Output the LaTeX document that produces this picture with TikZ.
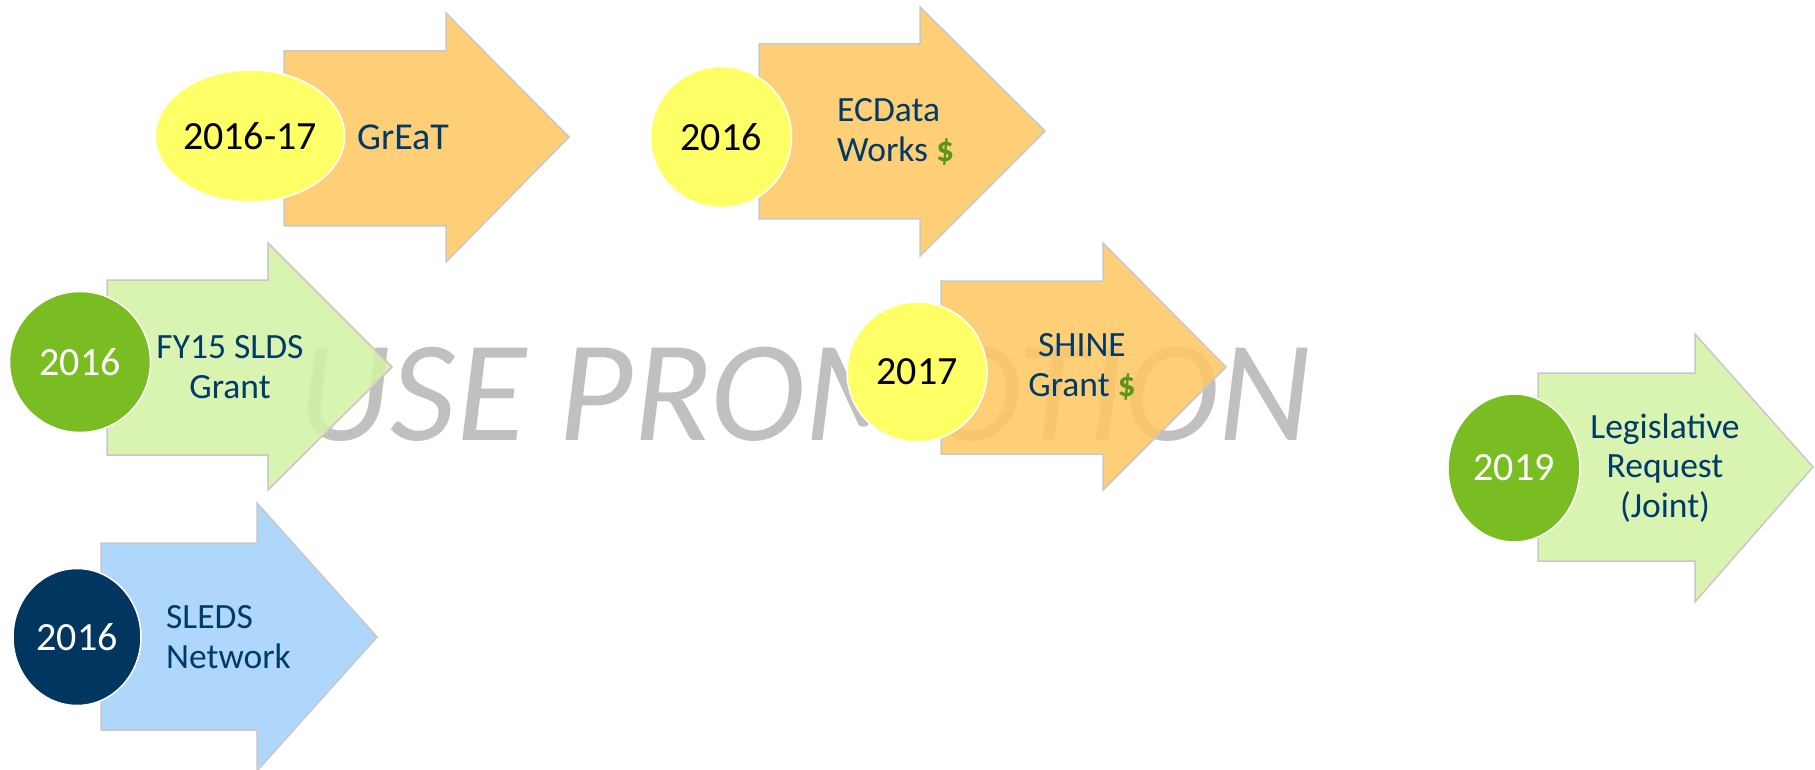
\documentclass[tikz,border=0pt]{standalone}
\usepackage{fontspec}
\setmainfont{Carlito}
\usetikzlibrary{shapes.geometric}
\definecolor{padorange}{RGB}{255,200,100}
\definecolor{padgreen}{RGB}{212,241,166}
\definecolor{padblue}{RGB}{164,209,250}
\definecolor{padline}{RGB}{200,200,200}
\definecolor{dotyellow}{RGB}{255,255,102}
\definecolor{dotgreen}{RGB}{122,189,34}
\definecolor{dotnavy}{RGB}{0,54,96}
\definecolor{labelnavy}{RGB}{0,58,104}
\definecolor{dollargreen}{RGB}{90,150,30}
\definecolor{stampgray}{RGB}{192,192,192}
\newcommand{\dollar}{{\color{dollargreen}\textbf{\$}}}
\begin{document}
\begin{tikzpicture}[x=1pt,y=-1pt,
 pad/.style={draw=padline,line width=1.5pt,fill opacity=0.88,line join=miter},
 dot/.style={ellipse,draw=white,line width=1.5pt,inner sep=0pt,font=\fontsize{40}{46}\selectfont},
 caption/.style={text=labelnavy,inner sep=0pt,font=\fontsize{35.5}{39.5}\selectfont}]
 \useasboundingbox (0,0) rectangle (1815,770);
 \node[text=stampgray,anchor=base,font=\fontsize{144}{160}\selectfont\itshape] (stamp) at (805,440) {USE PROMOTION};
 % arrows
 \draw[pad,fill=padorange](284,51)--(446,51)--(446,13)--(569,137)--(446,262)--(446,226)--(284,226)--cycle;
 \draw[pad,fill=padorange](759,44)--(920,44)--(920,7)--(1045,131)--(920,256)--(920,219)--(759,219)--cycle;
 \draw[pad,fill=padgreen](107,280)--(268,280)--(268,243)--(392,367)--(268,490)--(268,455)--(107,455)--cycle;
 \draw[pad,fill=padorange](941,281)--(1103,281)--(1103,243)--(1226,367)--(1103,490)--(1103,454)--(941,454)--cycle;
 \draw[pad,fill=padgreen](1538,373)--(1695,373)--(1695,334)--(1813,467)--(1695,602)--(1695,561)--(1538,561)--cycle;
 \draw[pad,fill=padblue](101,543)--(257,543)--(257,503)--(377,637)--(257,771)--(257,730)--(101,730)--cycle;
 % years
 \node[dot,fill=dotyellow,minimum width=180pt,minimum height=132pt] (great) at (250,136) {2016-17};
 \node[dot,fill=dotyellow,minimum width=141pt,minimum height=141pt] (ecdata) at (721,137) {2016};
 \node[dot,fill=dotgreen,text=white,minimum width=141pt,minimum height=141pt] (slds) at (80,362) {2016};
 \node[dot,fill=dotyellow,minimum width=140pt,minimum height=140pt] (shine) at (917,372) {2017};
 \node[dot,fill=dotgreen,text=white,minimum width=132pt,minimum height=148pt] (legis) at (1514,468) {2019};
 \node[dot,fill=dotnavy,text=white,minimum width=128pt,minimum height=137pt] (sleds) at (77,637) {2016};
 % labels
 \node[caption,font=\fontsize{38}{42}\selectfont] (great-txt) at (403,137) {GrEaT};
 \node[caption,align=left,anchor=west] (ecdata-txt) at (837,132) {ECData\\Works \dollar};
 \node[caption,align=center] (slds-txt) at (230,367) {FY15 SLDS\\Grant};
 \node[caption,align=center] (shine-txt) at (1082,367) {SHINE\\Grant \dollar};
 \node[caption,align=center] (legis-txt) at (1665,468) {Legislative\\Request\\(Joint)};
 \node[caption,align=left,anchor=west] (sleds-txt) at (166,637) {SLEDS\\Network};
\end{tikzpicture}
\end{document}
